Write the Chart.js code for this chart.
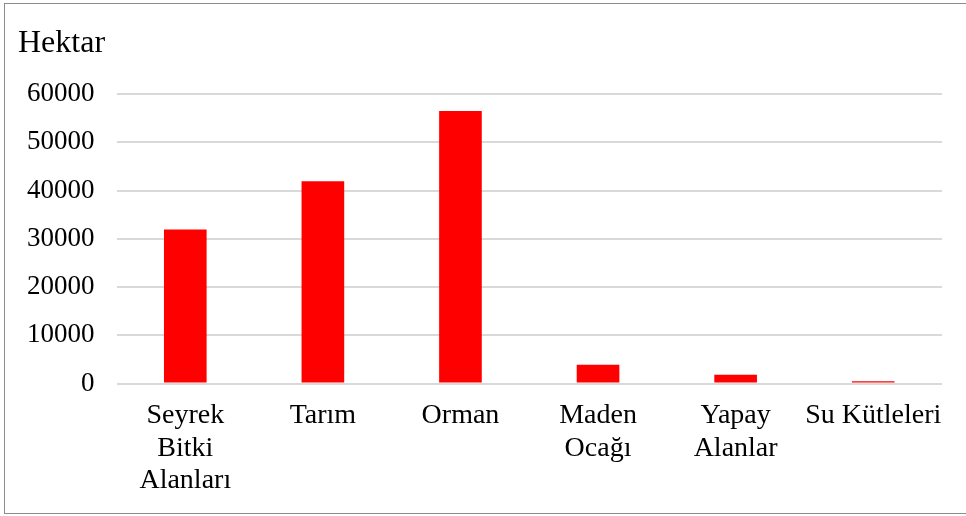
<!DOCTYPE html>
<html>
<head>
<meta charset="utf-8">
<script src="https://cdn.jsdelivr.net/npm/chart.js@4"></script>
<style>
  html, body { margin: 0; padding: 0; background: #fff; overflow: hidden; }
  .frame {
    position: absolute;
    left: 4px;
    top: 3px;
    width: 965px;
    height: 509px;
    border: 1px solid #8c8c8c;
  }
</style>
</head>
<body>
<div class="frame"><canvas id="chart"></canvas></div>
<script>
const categories = [
  ['Seyrek', 'Bitki', 'Alanları'],
  'Tarım',
  'Orman',
  ['Maden', 'Ocağı'],
  ['Yapay', 'Alanlar'],
  'Su Kütleleri',
];
const hectares = [31900, 41900, 56500, 3900, 1800, 500];
const yTicks = [0, 10000, 20000, 30000, 40000, 50000, 60000];
const unitLabel = 'Hektar';

const serif = '"Liberation Serif", "Times New Roman", serif';

// unit caption sits above the axis labels, flush with the left edge
const unitCaption = {
  id: 'unitCaption',
  afterDraw(chart) {
    const ctx = chart.ctx;
    ctx.save();
    ctx.fillStyle = '#000';
    ctx.font = '32px ' + serif;
    ctx.textAlign = 'left';
    ctx.textBaseline = 'alphabetic';
    ctx.fillText(unitLabel, 13, 48);
    ctx.restore();
  },
};

new Chart(document.getElementById('chart'), {
  type: 'bar',
  data: {
    labels: categories,
    datasets: [{
      label: unitLabel,
      data: hectares,
      backgroundColor: '#ff0000',
      borderWidth: 0,
      barPercentage: 0.31,
      categoryPercentage: 1,
    }],
  },
  plugins: [unitCaption],
  options: {
    responsive: true,
    maintainAspectRatio: false,
    animation: false,
    layout: {
      padding: { left: 0, right: 28, top: 90, bottom: 8 },
    },
    plugins: {
      legend: { display: false },
      tooltip: { enabled: false },
      title: { display: false },
    },
    scales: {
      x: {
        grid: { display: false },
        border: { display: false },
        ticks: {
          color: '#000',
          font: { family: serif, size: 28, lineHeight: 1.16 },
          padding: 8,
          maxRotation: 0,
          autoSkip: false,
        },
      },
      y: {
        min: 0,
        max: 60000,
        afterBuildTicks: (axis) => {
          axis.ticks = yTicks.map(v => ({ value: v }));
        },
        grid: {
          color: '#d9d9d9',
          lineWidth: 2,
          drawTicks: false,
        },
        border: { display: false },
        ticks: {
          color: '#000',
          font: { family: serif, size: 27 },
          padding: 22,
          callback: (value) => String(value),
        },
      },
    },
  },
});
</script>
</body>
</html>
